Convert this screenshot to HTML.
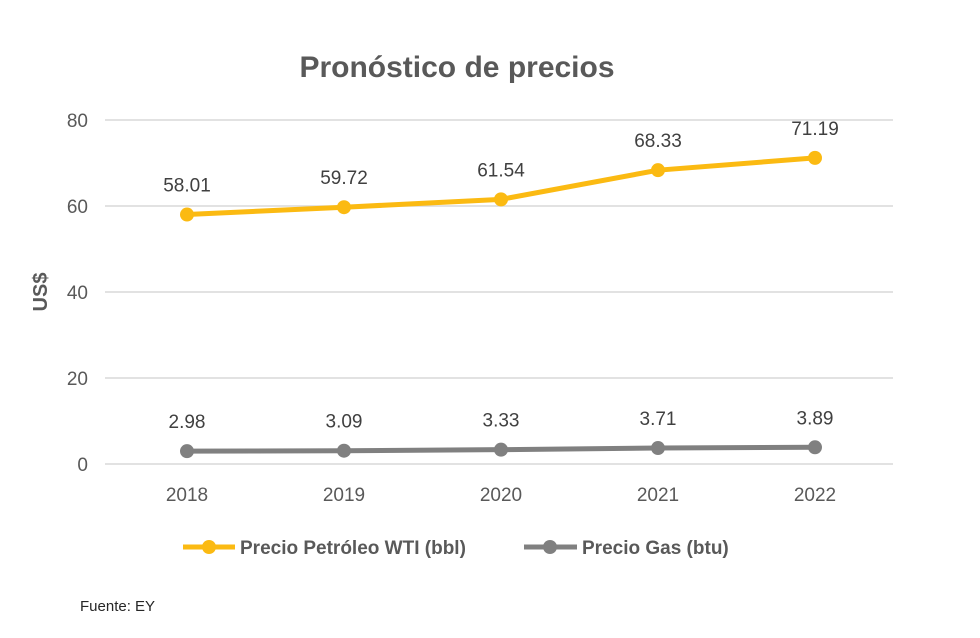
<!DOCTYPE html>
<html><head><meta charset="utf-8"><style>
html,body{margin:0;padding:0;background:#fff;}
svg{display:block;font-family:"Liberation Sans",sans-serif;}
</style></head><body>
<svg id="chart" width="980" height="638" viewBox="0 0 980 638">
<text x="457" y="77" text-anchor="middle" font-size="30" font-weight="bold" fill="#595959">Pronóstico de precios</text>
<text transform="translate(47,292) rotate(-90)" text-anchor="middle" font-size="20" font-weight="bold" fill="#595959">US$</text>
<g id="grid"></g><g id="series"></g>
<g>
<g>
<line x1="183" y1="547" x2="235" y2="547" stroke="#FBBA12" stroke-width="5"/>
<circle cx="209" cy="547" r="7" fill="#FBBA12"/>
<text x="240" y="554" font-size="19" font-weight="bold" fill="#595959">Precio Petróleo WTI (bbl)</text></g>
<g>
<line x1="524" y1="547" x2="577" y2="547" stroke="#808080" stroke-width="5"/>
<circle cx="550" cy="547" r="7" fill="#808080"/>
<text x="582" y="554" font-size="19" font-weight="bold" fill="#595959">Precio Gas (btu)</text></g>
</g>
<text x="80" y="611" font-size="15" fill="#262626">Fuente: EY</text>
</svg>
<script>
const categories=["2018","2019","2020","2021","2022"];
const wtiValues=[58.01,59.72,61.54,68.33,71.19];
const gasValues=[2.98,3.09,3.33,3.71,3.89];
const yTicks=[0,20,40,60,80];
const NS="http://www.w3.org/2000/svg";
const x0=187,dx=157,yBase=464,pxPerUnit=4.3;
const xs=i=>x0+i*dx, ys=v=>yBase-v*pxPerUnit;
function mk(tag,attrs,parent){const e=document.createElementNS(NS,tag);for(const k in attrs)e.setAttribute(k,attrs[k]);parent.appendChild(e);return e;}
const grid=document.getElementById('grid');
yTicks.forEach(t=>{
 const l=mk('line',{x1:105,x2:893,y1:ys(t),y2:ys(t),stroke:'#d9d9d9','stroke-width':1.5},grid);
 
 
 const tx=mk('text',{x:88,y:ys(t)+7,'text-anchor':'end','font-size':19,fill:'#595959'},grid);
 tx.textContent=t;
 
 
});
categories.forEach((c,i)=>{
 const tx=mk('text',{x:xs(i),y:501,'text-anchor':'middle','font-size':19,fill:'#595959'},grid);
 tx.textContent=c;
 
 
});
const sg=document.getElementById('series');
function drawSeries(vals,color,name){
 const p=mk('polyline',{points:vals.map((v,i)=>xs(i)+','+ys(v)).join(' '),fill:'none',stroke:color,'stroke-width':5,'stroke-linejoin':'round'},sg);
 
 
 vals.forEach((v,i)=>{
  const c=mk('circle',{cx:xs(i),cy:ys(v),r:7,fill:color},sg);
  
  
  const t=mk('text',{x:xs(i),y:ys(v)-23,'text-anchor':'middle','font-size':19,fill:'#404040'},sg);
  t.textContent=v.toFixed(2);
  
  
 });
}
drawSeries(wtiValues,'#FBBA12','wti');
drawSeries(gasValues,'#808080','gas');
</script>
</body></html>
